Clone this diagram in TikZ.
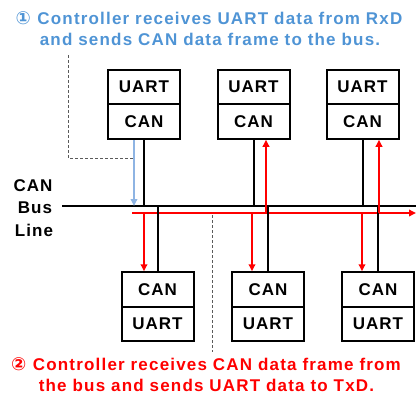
\documentclass[tikz,border=0pt]{standalone}
\usepackage{fontspec}
\setmainfont{Liberation Sans}
\newfontfamily\symfont{DejaVu Sans}
\newfontfamily\capfont[LetterSpace=7]{Liberation Sans}
\newfontfamily\cellfont[LetterSpace=6]{Liberation Sans}
\newcommand\circnum[1]{{\symfont\fontsize{18}{18}\selectfont #1}\hspace{6.5pt}}
\usetikzlibrary{arrows.meta}
\definecolor{capblue}{RGB}{79,148,213}
\definecolor{arrowblue}{RGB}{142,180,227}
\definecolor{sigred}{RGB}{255,0,0}
\definecolor{guide}{RGB}{90,90,90}
\begin{document}
\begin{tikzpicture}[x=1pt,y=-1pt,
  cell/.style={draw=black, line width=2pt, minimum width=72pt, minimum height=34.5pt,
    inner sep=0pt, fill=white, font=\cellfont\bfseries\fontsize{17}{17}\selectfont},
  wire/.style={draw=black, line width=2pt},
  sigarrow/.style={draw=sigred, line width=2pt, -{Triangle[length=7pt,width=6.5pt]}},
  txarrow/.style={draw=arrowblue, line width=2pt, -{Triangle[length=7pt,width=6.5pt]}},
  guideline/.style={draw=guide, line width=0.7pt, dash pattern=on 3pt off 2pt},
  caption/.style={font=\capfont\bfseries\fontsize{17}{17}\selectfont, inner sep=0pt, anchor=base},
  buslabel/.style={font=\cellfont\bfseries\fontsize{17}{17}\selectfont, inner sep=0pt, anchor=base}]
\useasboundingbox (0,0) rectangle (416,394);

% captions
\node[caption, text=capblue] (capA1) at (209,24) {\circnum{①}Controller receives UART data from RxD};
\node[caption, text=capblue] (capA2) at (210,45) {and sends CAN data frame to the bus.};
\node[caption, text=sigred] (capB1) at (206,370) {\circnum{②}Controller receives CAN data frame from};
\node[caption, text=sigred] (capB2) at (206.5,391) {the bus and sends UART data to TxD.};

% bus label
\node[buslabel] (lblA) at (33,191) {CAN};
\node[buslabel] (lblB) at (35,213) {Bus};
\node[buslabel] (lblC) at (34,236) {Line};

% upper controllers
\node[cell] (u1) at (144,87) {UART};
\node[cell] (c1) at (144,121.5) {CAN};
\node[cell] (u2) at (253.5,87) {UART};
\node[cell] (c2) at (253.5,121.5) {CAN};
\node[cell] (u3) at (362.5,87) {UART};
\node[cell] (c3) at (362.5,121.5) {CAN};

% lower controllers
\node[cell] (lc1) at (157.5,289.5) {CAN};
\node[cell] (lu1) at (157.5,324) {UART};
\node[cell] (lc2) at (268,289.5) {CAN};
\node[cell] (lu2) at (268,324) {UART};
\node[cell] (lc3) at (378,289.5) {CAN};
\node[cell] (lu3) at (378,324) {UART};

% bus and frame path
\coordinate (busL) at (62,206);
\coordinate (busR) at (416,206);
\coordinate (frL) at (132,213);
\coordinate (frR) at (416,213);

% guide lines
\coordinate (gA0) at (68,55);
\coordinate (gA1) at (68,158);
\coordinate (gA2) at (133,158);
\draw[guideline] (gA0) -- (gA1) -- (gA2);
\coordinate (gB0) at (212,215);
\coordinate (gB1) at (212,352);
\draw[guideline] (gB0) -- (gB1);

\draw[wire] (busL) -- (busR);
\draw[sigarrow] (frL) -- (frR);

% stubs to the bus
\draw[wire] (c1.south) -- (c1.south |- busL);
\draw[wire] (c2.south) -- (c2.south |- busL);
\draw[wire] (c3.south) -- (c3.south |- busL);
\draw[wire] (lc1.north |- busL) -- (lc1.north);
\draw[wire] (lc2.north |- busL) -- (lc2.north);
\draw[wire] (lc3.north |- busL) -- (lc3.north);

% transmitted frame
\coordinate (tx1) at (134,140);
\draw[txarrow] (tx1) -- (tx1 |- busL);

% received frames
\coordinate (up2) at (266,213);
\coordinate (up3) at (379,213);
\draw[sigarrow] (up2) -- (up2 |- c2.south);
\draw[sigarrow] (up3) -- (up3 |- c3.south);
\coordinate (dn1) at (144,213);
\coordinate (dn2) at (252,213);
\coordinate (dn3) at (362,213);
\draw[sigarrow] (dn1) -- (dn1 |- lc1.north);
\draw[sigarrow] (dn2) -- (dn2 |- lc2.north);
\draw[sigarrow] (dn3) -- (dn3 |- lc3.north);
\end{tikzpicture}
\end{document}
